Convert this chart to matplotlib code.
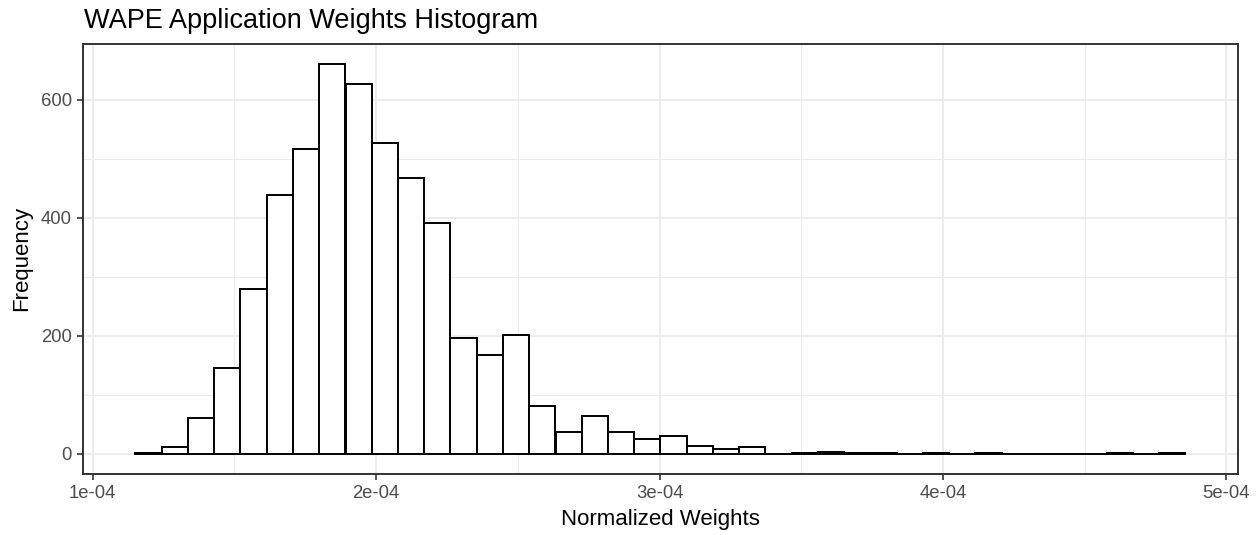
import numpy as np
import matplotlib
matplotlib.use("Agg")
import matplotlib.pyplot as plt

plt.rcParams['font.family'] = ['Liberation Sans', 'DejaVu Sans']

# histogram: 40 bins
bin_lo = 1.1507e-4
bin_hi = 4.8557e-4
counts = [2, 12, 61, 146, 280, 439, 517, 661, 627, 526,
          467, 391, 196, 168, 202, 81, 37, 65, 37, 26,
          30, 13, 8, 12, 0, 1, 4, 2, 2, 0,
          2, 0, 2, 0, 0, 0, 0, 2, 0, 2]
x_ticks = [1e-4, 2e-4, 3e-4, 4e-4, 5e-4]
x_labels = ["1e-04", "2e-04", "3e-04", "4e-04", "5e-04"]
y_ticks = [0, 200, 400, 600]

edges = np.linspace(bin_lo, bin_hi, len(counts) + 1)
width = edges[1] - edges[0]

W, H = 1260, 535
fig = plt.figure(figsize=(W / 100, H / 100), dpi=100)
ax = fig.add_axes([83 / W, 1 - 473.5 / H, (1238 - 83) / W, (473.5 - 44.3) / H])

ax.bar(edges[:-1], counts, width=width, align="edge", color="white",
       edgecolor="black", linewidth=1.4, zorder=3)

# ggplot-like 5% expansion
xr = bin_hi - bin_lo
ax.set_xlim(bin_lo - 0.05 * xr, bin_hi + 0.05 * xr)
ymax = max(counts)
ax.set_ylim(-0.05 * ymax, ymax * 1.05)

ax.set_xticks(x_ticks)
ax.set_xticklabels(x_labels)
ax.set_xticks([1.5e-4, 2.5e-4, 3.5e-4, 4.5e-4], minor=True)
ax.set_yticks(y_ticks)
ax.set_yticks([100, 300, 500], minor=True)

ax.grid(which="major", color="#EBEBEB", linewidth=1.3, zorder=0)
ax.grid(which="minor", color="#EBEBEB", linewidth=0.7, zorder=0)
ax.set_axisbelow(True)

for s in ax.spines.values():
    s.set_color("#333333")
    s.set_linewidth(1.4)

ax.tick_params(which="major", length=4, width=1.2, color="#333333",
               labelcolor="#4D4D4D", labelsize=13.3, pad=4)
ax.tick_params(which="minor", length=0)

fig.text(660.5 / W, 1 - 525 / H, "Normalized Weights", fontsize=16,
         color="black", ha="center", va="baseline")
fig.text(11 / W, 1 - 258.9 / H, "Frequency", fontsize=16, color="black",
         rotation=90, ha="left", va="center")
fig.text(84 / W, 1 - 28.3 / H, "WAPE Application Weights Histogram",
         fontsize=19.5, color="black", va="baseline", ha="left")

fig.savefig("out.png", dpi=100, facecolor="white")
